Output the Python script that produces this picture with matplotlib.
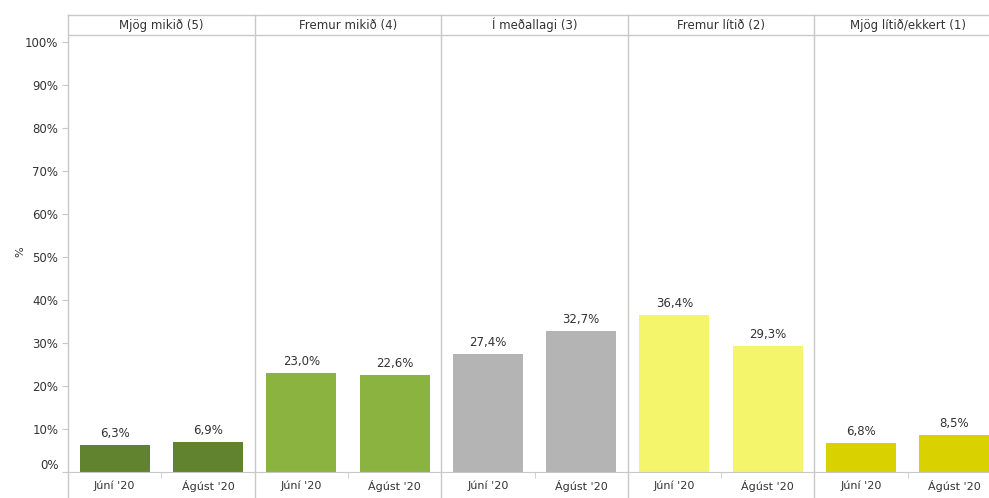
import matplotlib
matplotlib.use("Agg")
import matplotlib.pyplot as plt
from matplotlib.lines import Line2D
import matplotlib.transforms as mtransforms

plt.rcParams['font.family'] = ['DejaVu Sans']

categories = ["Mjög mikið (5)", "Fremur mikið (4)", "Í meðallagi (3)", "Fremur lítið (2)", "Mjög lítið/ekkert (1)"]
periods = ["Júní '20", "Ágúst '20"]
values = [
    [6.3, 6.9],
    [23.0, 22.6],
    [27.4, 32.7],
    [36.4, 29.3],
    [6.8, 8.5],
]
colors = ["#61822f", "#8ab43f", "#b4b4b4", "#f5f56b", "#d9d100"]
yticks = [0, 10, 20, 30, 40, 50, 60, 70, 80, 90, 100]

W, H = 989, 498
fig = plt.figure(figsize=(W / 100, H / 100), dpi=100)

left0 = 68
pw = 186.6
y_top_hdr = 15
y_hdr = 35
y_axis = 472
grid_col = "#c8c8c8"
text_col = "#333333"

axes = []
for i, cat in enumerate(categories):
    l = (left0 + pw * i) / W
    ax = fig.add_axes([l, 1 - y_axis / H, pw / W, (y_axis - y_hdr) / H])
    axes.append(ax)
    x = [0, 1]
    ax.bar(x, values[i], width=0.75, color=colors[i])
    for xi, v in zip(x, values[i]):
        ax.text(xi, v + 1.2, f"{v:.1f}%".replace(".", ","), ha="center", va="bottom",
                fontsize=8.5, color=text_col)
    ax.set_xlim(-0.5, 1.5)
    ax.set_ylim(0, 101.6)
    for s in ax.spines.values():
        s.set_visible(False)
    ax.spines["bottom"].set_visible(True)
    ax.spines["bottom"].set_color(grid_col)
    ax.set_xticks(x)
    ax.set_xticklabels(periods, fontsize=8, color=text_col)
    ax.tick_params(axis="x", length=0, pad=6)
    ax.set_xticks([0.5], minor=True)
    ax.tick_params(axis="x", which="minor", length=4, color=grid_col)
    if i == 0:
        ax.set_yticks(yticks)
        ax.set_yticklabels([f"{t}%" for t in yticks], fontsize=8.5, color=text_col)
        ax.tick_params(axis="y", length=4, color=grid_col, pad=3)
    else:
        ax.set_yticks([])
    hx = (left0 + pw * (i + 0.5)) / W
    fig.text(hx, 1 - (y_top_hdr + y_hdr) / 2 / H, cat, ha="center", va="center",
             fontsize=8.5, color=text_col)

# shift 0% label up as in reference
fig.canvas.draw()
lbl0 = axes[0].get_yticklabels()[0]
lbl0.set_transform(lbl0.get_transform() + mtransforms.ScaledTranslation(0, 8 / 100, fig.dpi_scale_trans))

fig.text(20 / W, 1 - 252 / H, "%", rotation=90, ha="center", va="center", fontsize=8, color=text_col)

# frame lines
for i in range(6):
    xx = (left0 + pw * i) / W
    fig.add_artist(Line2D([xx, xx], [0, 1 - y_top_hdr / H], color=grid_col, lw=1,
                          transform=fig.transFigure))
xr = (left0 + pw * 5) / W
for yy in (y_top_hdr, y_hdr):
    fig.add_artist(Line2D([left0 / W, xr], [1 - yy / H, 1 - yy / H], color=grid_col, lw=1,
                          transform=fig.transFigure))

fig.savefig("out.png", dpi=100)
